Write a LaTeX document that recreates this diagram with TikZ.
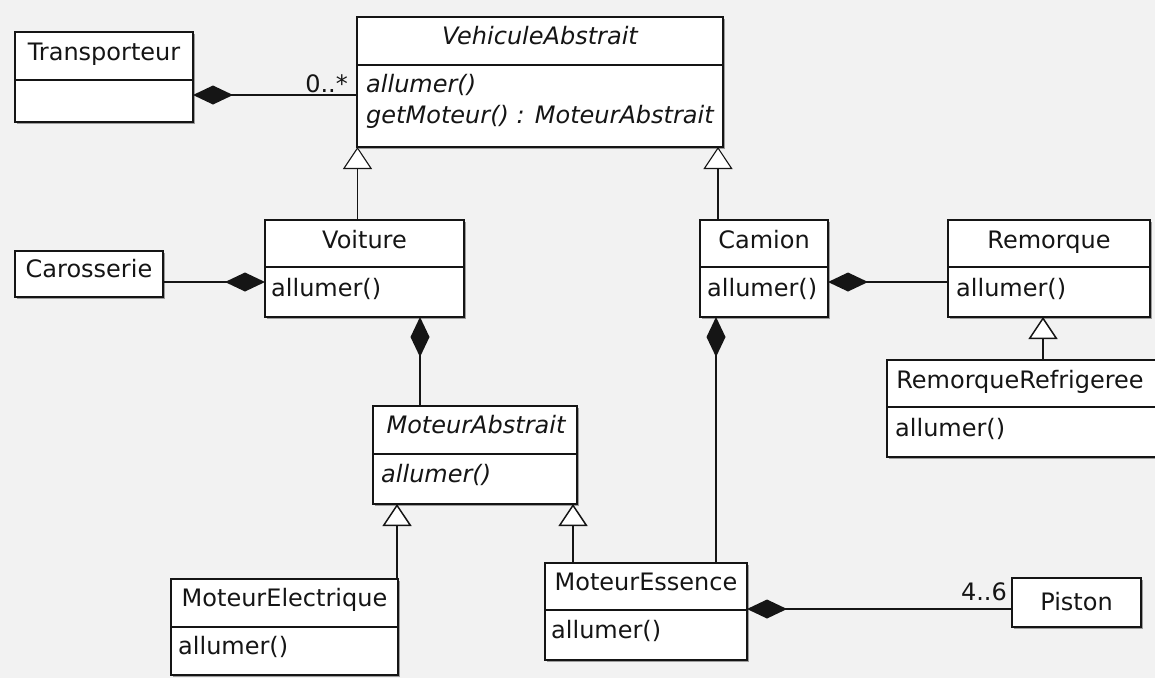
\documentclass[tikz,border=0pt]{standalone}
\usepackage{fontspec}
\setmainfont{DejaVu Sans}
\usetikzlibrary{arrows.meta,shadows}
\definecolor{canvas}{HTML}{F2F2F2}
\definecolor{ink}{HTML}{151515}
\begin{document}
\begin{tikzpicture}[x=1pt,y=-1pt,
  font=\fontsize{24}{28}\selectfont, text=ink,
  cls/.style={draw=ink, fill=white, line width=1.5pt, inner sep=0pt, outer sep=0pt,
    anchor=north west,
    drop shadow={shadow xshift=2pt, shadow yshift=-2pt, fill=black, opacity=0.35}},
  divl/.style={draw=ink, line width=1.5pt},
  ttl/.style={anchor=base, inner sep=0pt},
  op/.style={anchor=base west, inner sep=0pt},
  compo/.style={draw=ink, line width=1.6pt, -{Diamond[length=40pt,width=19pt]}},
  inh/.style={draw=ink, line width=1.6pt, -{Triangle[length=22pt,width=29pt,fill=white,line width=1.5pt]}},
  inhthin/.style={draw=ink, line width=1.1pt, -{Triangle[length=22pt,width=29pt,fill=white,line width=1.1pt]}},
  mult/.style={anchor=base east, inner sep=0pt}
]
% page and background
\useasboundingbox (0,0) rectangle (1155,678);
\fill[canvas] (0,0) rectangle (1155,678);

% ---- classes ----
% Transporteur
\node[cls, minimum width=178pt, minimum height=90pt] (trans) at (15,32) {};
\draw[divl] (15,80) -- (193,80);
\node[ttl] at (104,60) {Transporteur};

% VehiculeAbstrait
\node[cls, minimum width=366pt, minimum height=130pt] (veh) at (357,17) {};
\draw[divl] (357,65) -- (723,65);
\node[ttl] at (540,44) {\itshape VehiculeAbstrait};
\node[op] at (366,92) {\itshape allumer()};
\node[op] at (366,123) {\itshape getMoteur() : MoteurAbstrait};

% Voiture
\node[cls, minimum width=199pt, minimum height=97pt] (voit) at (265,220) {};
\draw[divl] (265,267) -- (464,267);
\node[ttl] at (364.5,248) {Voiture};
\node[op] at (271,296) {allumer()};

% Carosserie
\node[cls, minimum width=148pt, minimum height=46pt] (caros) at (15,251) {};
\node[ttl] at (89,277) {Carosserie};

% Camion
\node[cls, minimum width=128pt, minimum height=97pt] (camion) at (700,220) {};
\draw[divl] (700,267) -- (828,267);
\node[ttl] at (764,248) {Camion};
\node[op] at (707,296) {allumer()};

% Remorque
\node[cls, minimum width=202pt, minimum height=97pt] (rem) at (948,220) {};
\draw[divl] (948,267) -- (1150,267);
\node[ttl] at (1049,248) {Remorque};
\node[op] at (956,296) {allumer()};

% RemorqueRefrigeree
\node[cls, minimum width=272pt, minimum height=97pt] (remref) at (887,360) {};
\draw[divl] (887,407) -- (1159,407);
\node[ttl] at (1020,388) {RemorqueRefrigeree};
\node[op] at (895,436) {allumer()};

% MoteurAbstrait
\node[cls, minimum width=204pt, minimum height=98pt] (mabs) at (373,406) {};
\draw[divl] (373,454) -- (577,454);
\node[ttl] at (476,433) {\itshape MoteurAbstrait};
\node[op] at (381,482) {\itshape allumer()};

% MoteurElectrique
\node[cls, minimum width=227pt, minimum height=96pt] (melec) at (171,579) {};
\draw[divl] (171,627) -- (398,627);
\node[ttl] at (284.5,606) {MoteurElectrique};
\node[op] at (178,654) {allumer()};

% MoteurEssence
\node[cls, minimum width=202pt, minimum height=97pt] (mess) at (545,563) {};
\draw[divl] (545,610) -- (747,610);
\node[ttl] at (646,590) {MoteurEssence};
\node[op] at (551,638) {allumer()};

% Piston
\node[cls, minimum width=129pt, minimum height=49pt] (piston) at (1012,578) {};
\node[ttl] at (1076.5,610) {Piston};

% ---- relations ----
% compositions
\draw[compo] (veh.west |- 0,95) -- (trans.east |- 0,95);
\node[mult] (m1) at (348,92) {0..*};
\draw[compo] (caros.east |- 0,282) -- (voit.west |- 0,282);
\draw[compo] (mabs.north -| 420,0) -- (voit.south -| 420,0);
\draw[compo] (rem.west |- 0,282) -- (camion.east |- 0,282);
\draw[compo] (mess.north -| 716,0) -- (camion.south -| 716,0);
\draw[compo] (piston.west |- 0,609) -- (mess.east |- 0,609);
\node[mult] (m2) at (1007,600) {4..6};

% generalisations
\draw[inhthin] (voit.north -| 357.5,0) -- (veh.south -| 357.5,0);
\draw[inhthin] (camion.north -| 718,0) -- (veh.south -| 718,0);
\draw[inh] (remref.north -| 1043,0) -- (rem.south -| 1043,0);
\draw[inh] (melec.north -| 397,0) -- (mabs.south -| 397,0);
\draw[inh] (mess.north -| 573,0) -- (mabs.south -| 573,0);
\end{tikzpicture}
\end{document}
